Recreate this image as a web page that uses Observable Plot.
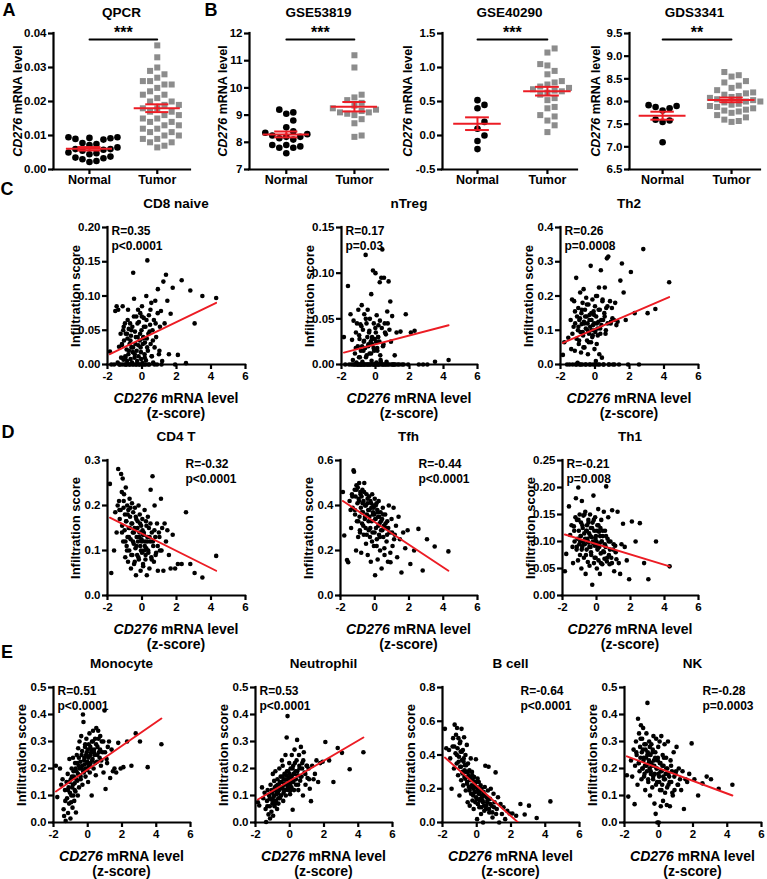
<!DOCTYPE html>
<html><head><meta charset="utf-8">
<script src="https://cdn.jsdelivr.net/npm/d3@7"></script>
<script src="https://cdn.jsdelivr.net/npm/@observablehq/plot@0.6"></script>
<style>
body{margin:0;background:#fff;}
#fig{position:relative;width:767px;height:879px;font-family:"Liberation Sans",Arial,sans-serif;font-weight:bold;color:#000;overflow:hidden;background:#fff}
.abs{position:absolute;white-space:nowrap;line-height:1}
.title{font-size:13.5px;transform:translate(-50%,-50%)}
.letter{font-size:18px;transform:translate(-50%,-50%)}
.ylab{transform:translate(-50%,-50%) rotate(-90deg)}
.xlab{font-size:14px;text-align:center;transform:translateX(-50%);line-height:15px}
svg{position:absolute}
</style></head><body><div id="fig"></div>
<script>
// ---------------- DATA ----------------
const groupLabels = ["Normal", "Tumor"];

const qpcrNormal = [0.0095,0.0095,0.0093,0.0092,0.009,0.0088,0.0078,0.0075,0.0072,0.0065,0.006,0.006,0.0058,0.0055,0.005,0.0048,0.0045,0.0038,0.0035,0.0033,0.003,0.0025,0.0022];
const qpcrTumor = [0.0365,0.033,0.03,0.029,0.028,0.027,0.026,0.026,0.025,0.025,0.024,0.023,0.022,0.022,0.021,0.02,0.02,0.019,0.019,0.018,0.018,0.017,0.017,0.016,0.016,0.015,0.015,0.014,0.014,0.013,0.013,0.012,0.012,0.011,0.011,0.01,0.01,0.009,0.009,0.008,0.008,0.007,0.0065];
const gse53819Normal = [9.2,9.1,9.05,8.8,8.55,8.3,8.25,8.2,8.4,8.35,8.2,8.15,8.1,7.9,7.9,7.85,7.8,7.8,7.6];
const gse53819Tumor = [11.2,10.75,9.75,9.65,9.55,9.45,9.35,9.25,9.2,9.15,9.1,9.1,9.05,9.0,8.85,8.7,8.25,8.2];
const gse40290Normal = [0.52,0.45,0.4,0.2,0.1,0.0,-0.08,-0.2];
const gse40290Tumor = [1.28,1.22,1.05,1.03,0.95,0.9,0.8,0.78,0.75,0.72,0.7,0.68,0.66,0.65,0.63,0.6,0.55,0.52,0.42,0.4,0.3,0.28,0.22,0.15,0.05];
const gds3341Normal = [7.92,7.9,7.88,7.85,7.8,7.6,7.58,7.55,7.1];
const gds3341Tumor = [8.65,8.58,8.55,8.45,8.42,8.35,8.3,8.25,8.2,8.18,8.15,8.12,8.1,8.08,8.05,8.03,8.0,8.0,7.98,7.95,7.93,7.9,7.88,7.85,7.82,7.8,7.78,7.75,7.7,7.65,7.6,7.57,7.55];

const dotTitles = ["QPCR", "GSE53819", "GSE40290", "GDS3341"];
const dotStars = ["***", "***", "***", "**"];
const dotYDomains = [[0, 0.04], [7, 12], [-0.5, 1.5], [6.5, 9.5]];
const dotYTicks = [[0, 0.01, 0.02, 0.03, 0.04], [7, 8, 9, 10, 11, 12], [-0.5, 0, 0.5, 1, 1.5], [6.5, 7, 7.5, 8, 8.5, 9, 9.5]];
const dotYDecimals = [2, 0, 1, 1];

// CD276 z-score (shared samples for all infiltration panels)
const zScore = [-1.86,-1.78,-1.62,-1.55,-1.47,-1.41,-1.38,-1.33,-1.29,-1.24,
-1.21,-1.17,-1.15,-1.12,-1.09,-1.07,-1.04,-1.01,-0.99,-0.97,
-0.94,-0.91,-0.89,-0.86,-0.84,-0.81,-0.79,-0.77,-0.74,-0.72,
-0.69,-0.66,-0.64,-0.61,-0.58,-0.56,-0.53,-0.51,-0.48,-0.46,
-0.43,-0.41,-0.38,-0.35,-0.33,-0.31,-0.28,-0.25,-0.23,-0.2,
-0.18,-0.15,-0.13,-0.1,-0.08,-0.05,-0.03,0.0,0.02,0.05,
0.07,0.1,0.12,0.15,0.17,0.2,0.23,0.25,0.28,0.31,
0.34,0.37,0.4,0.43,0.47,0.5,0.54,0.57,0.61,0.65,
0.69,0.73,0.77,0.82,0.87,0.92,0.98,1.04,1.1,1.17,
1.24,1.31,1.39,1.47,1.56,1.66,1.78,1.92,2.08,2.3,
2.55,2.8,3.05,3.5,4.3,
-1.31,-1.16,-1.06,-0.96,-0.92,-0.87,-0.83,-0.76,-0.71,-0.67,
-0.62,-0.57,-0.52,-0.47,-0.42,-0.36,-0.32,-0.26,-0.21,-0.16,
-0.11,-0.06,-0.01,0.03,0.06,0.11,0.16,0.21,0.26,0.3,
0.36,0.44,0.49,0.56,0.63,0.72,0.79,0.91,1.01,1.13];

const cd8Naive = [0.019,0.0,0.0,0.078,0.085,0.003,0.08,0.026,0.0,0.045,
0.01,0.028,0.0,0.085,0.05,0.007,0.035,0.0,0.06,0.012,
0.045,0.0,0.022,0.005,0.038,0.08,0.015,0.052,0.0,0.03,
0.06,0.008,0.042,0.025,0.003,0.055,0.018,0.134,0.0,0.096,
0.01,0.048,0.03,0.0,0.07,0.02,0.005,0.04,0.08,0.012,
0.062,0.0,0.035,0.075,0.025,0.008,0.05,0.085,0.002,0.03,
0.04,0.068,0.0,0.015,0.032,0.055,0.006,0.1,0.038,0.152,
0.02,0.045,0.072,0.0,0.058,0.03,0.09,0.012,0.05,0.003,
0.065,0.025,0.093,0.04,0.0,0.11,0.015,0.055,0.078,0.005,
0.121,0.06,0.131,0.093,0.015,0.074,0.112,0.0,0.014,0.123,
0.002,0.108,0.06,0.1,0.097,
0.0,0.03,0.055,0.01,0.0,0.045,0.065,0.02,0.0,0.035,
0.05,0.0,0.025,0.07,0.015,0.04,0.0,0.06,0.028,0.0,
0.045,0.018,0.07,0.0,0.038,0.055,0.01,0.0,0.065,0.025,
0.0,0.048,0.08,0.012,0.035,0.0,0.06,0.075,0.02,0.0];
const nTreg = [0.03,0.0,0.086,0.0,0.055,0.0,0.027,0.005,0.048,0.0,
0.012,0.0,0.035,0.002,0.045,0.0,0.02,0.06,0.0,0.008,
0.028,0.0,0.044,0.015,0.0,0.065,0.02,0.003,0.038,0.0,
0.025,0.055,0.0,0.018,0.12,0.008,0.045,0.0,0.03,0.06,
0.02,0.0,0.035,0.012,0.05,0.0,0.025,0.077,0.004,0.03,
0.022,0.103,0.0,0.045,0.015,0.028,0.0,0.1,0.035,0.002,
0.054,0.018,0.0,0.03,0.043,0.0,0.025,0.09,0.01,0.003,
0.095,0.04,0.126,0.0,0.022,0.095,0.045,0.0,0.033,0.003,
0.058,0.0,0.091,0.038,0.069,0.0,0.053,0.0,0.0,0.0,
0.035,0.0,0.0,0.036,0.0,0.0,0.055,0.0,0.035,0.037,
0.0,0.0,0.0,0.003,0.005,
0.0,0.018,0.0,0.032,0.008,0.0,0.042,0.0,0.015,0.026,
0.0,0.05,0.01,0.0,0.022,0.037,0.0,0.012,0.028,0.0,
0.018,0.0,0.04,0.025,0.0,0.015,0.03,0.0,0.048,0.005,
0.0,0.02,0.0,0.035,0.0,0.045,0.0,0.025,0.0,0.01];
const th2 = [0.028,0.065,0.0,0.078,0.0,0.13,0.045,0.19,0.0,0.11,
0.185,0.04,0.12,0.0,0.253,0.075,0.14,0.005,0.1,0.165,
0.06,0.13,0.0,0.21,0.095,0.035,0.15,0.118,0.0,0.18,
0.085,0.22,0.125,0.05,0.16,0.0,0.105,0.195,0.14,0.07,
0.12,0.03,0.175,0.09,0.0,0.145,0.11,0.288,0.065,0.13,
0.1,0.19,0.085,0.0,0.155,0.12,0.045,0.17,0.095,0.01,
0.14,0.06,0.2,0.105,0.0,0.125,0.225,0.03,0.16,0.09,
0.275,0.115,0.02,0.185,0.13,0.0,0.15,0.225,0.09,0.165,
0.31,0.12,0.315,0.0,0.185,0.125,0.165,0.0,0.13,0.18,
0.115,0.125,0.0,0.245,0.295,0.21,0.13,0.0,0.27,0.15,
0.0,0.337,0.15,0.162,0.24,
0.09,0.155,0.0,0.11,0.07,0.135,0.0,0.16,0.095,0.05,
0.12,0.14,0.0,0.175,0.1,0.065,0.13,0.0,0.15,0.08,
0.115,0.145,0.1,0.0,0.2,0.12,0.085,0.16,0.0,0.105,
0.13,0.19,0.0,0.14,0.1,0.17,0.0,0.12,0.135,0.0];
const cd4T = [0.248,0.05,0.1,0.185,0.14,0.2,0.281,0.21,0.17,0.19,
0.27,0.23,0.155,0.26,0.12,0.195,0.225,0.145,0.18,0.085,
0.24,0.165,0.11,0.2,0.13,0.075,0.19,0.15,0.1,0.215,
0.175,0.125,0.06,0.16,0.205,0.09,0.14,0.185,0.115,0.07,
0.15,0.195,0.105,0.045,0.17,0.13,0.09,0.165,0.12,0.2,
0.08,0.14,0.18,0.11,0.055,0.155,0.125,0.095,0.17,0.135,
0.065,0.14,0.1,0.19,0.12,0.08,0.165,0.105,0.045,0.13,
0.175,0.095,0.15,0.06,0.12,0.235,0.085,0.14,0.265,0.11,
0.075,0.2,0.13,0.095,0.16,0.055,0.14,0.1,0.215,0.15,
0.055,0.16,0.12,0.145,0.09,0.06,0.135,0.06,0.07,0.07,
0.185,0.07,0.05,0.04,0.088,
0.19,0.14,0.21,0.12,0.165,0.1,0.18,0.13,0.15,0.195,
0.09,0.16,0.12,0.14,0.075,0.175,0.11,0.15,0.085,0.13,
0.16,0.1,0.12,0.145,0.07,0.135,0.11,0.09,0.155,0.12,
0.1,0.13,0.16,0.08,0.12,0.145,0.09,0.11,0.13,0.1];
const tfh = [0.46,0.267,0.158,0.148,0.42,0.38,0.3,0.45,0.39,0.556,
0.55,0.47,0.36,0.44,0.2,0.49,0.33,0.41,0.48,0.26,
0.43,0.5,0.35,0.28,0.46,0.39,0.19,0.44,0.32,0.47,
0.37,0.42,0.27,0.5,0.34,0.4,0.3,0.23,0.45,0.36,
0.41,0.18,0.38,0.29,0.44,0.35,0.26,0.42,0.15,0.39,
0.33,0.45,0.28,0.37,0.4,0.22,0.36,0.43,0.09,0.34,
0.3,0.41,0.25,0.38,0.16,0.35,0.42,0.27,0.32,0.2,
0.37,0.29,0.12,0.34,0.39,0.26,0.31,0.18,0.36,0.3,
0.24,0.33,0.15,0.4,0.28,0.148,0.34,0.22,0.39,0.27,
0.31,0.17,0.35,0.25,0.102,0.28,0.21,0.29,0.14,0.2,
0.296,0.111,0.25,0.218,0.196,
0.44,0.38,0.47,0.33,0.42,0.29,0.45,0.37,0.41,0.31,
0.46,0.35,0.4,0.27,0.43,0.33,0.38,0.3,0.41,0.24,
0.36,0.39,0.28,0.34,0.4,0.22,0.37,0.31,0.35,0.26,
0.33,0.29,0.36,0.21,0.32,0.27,0.3,0.19,0.28,0.25];
const th1 = [0.045,0.077,0.165,0.112,0.13,0.09,0.06,0.128,0.1,0.145,
0.18,0.085,0.14,0.105,0.065,0.2,0.12,0.095,0.15,0.075,
0.11,0.135,0.05,0.175,0.09,0.125,0.1,0.148,0.07,0.115,
0.095,0.155,0.04,0.12,0.085,0.13,0.105,0.062,0.14,0.098,
0.115,0.055,0.15,0.09,0.125,0.075,0.108,0.02,0.135,0.097,
0.185,0.06,0.12,0.092,0.145,0.07,0.11,0.1,0.05,0.13,
0.088,0.16,0.065,0.118,0.096,0.04,0.125,0.078,0.14,0.1,
0.058,0.11,0.082,0.155,0.068,0.12,0.09,0.202,0.063,0.105,
0.145,0.075,0.058,0.1,0.07,0.158,0.085,0.045,0.092,0.067,
0.155,0.06,0.04,0.095,0.133,0.09,0.065,0.03,0.137,0.1,
0.134,0.06,0.03,0.1,0.054,
0.12,0.09,0.14,0.1,0.11,0.085,0.13,0.095,0.15,0.105,
0.075,0.12,0.1,0.135,0.09,0.11,0.08,0.125,0.1,0.14,
0.07,0.105,0.095,0.12,0.085,0.13,0.09,0.11,0.06,0.1,
0.12,0.08,0.095,0.11,0.07,0.1,0.085,0.06,0.095,0.08];
const monocyte = [0.21,0.094,0.2,0.14,0.16,0.049,0.024,0.12,0.006,0.15,
0.09,0.18,0.035,0.13,0.07,0.235,0.11,0.015,0.16,0.075,
0.2,0.13,0.055,0.24,0.1,0.17,0.08,0.145,0.22,0.115,
0.037,0.19,0.25,0.155,0.1,0.275,0.21,0.13,0.3,0.175,
0.225,0.16,0.32,0.2,0.265,0.14,0.4,0.372,0.185,0.24,
0.215,0.29,0.17,0.25,0.31,0.195,0.225,0.27,0.15,0.205,
0.245,0.33,0.185,0.28,0.22,0.26,0.1,0.3,0.235,0.34,
0.2,0.27,0.25,0.31,0.175,0.35,0.225,0.28,0.34,0.26,
0.24,0.32,0.21,0.3,0.26,0.185,0.415,0.124,0.235,0.28,
0.3,0.165,0.27,0.19,0.2,0.185,0.295,0.2,0.205,0.3,
0.21,0.33,0.3,0.205,0.29,
0.08,0.12,0.15,0.1,0.17,0.14,0.19,0.12,0.2,0.16,
0.22,0.18,0.24,0.2,0.17,0.25,0.21,0.19,0.23,0.28,
0.2,0.26,0.22,0.24,0.29,0.21,0.25,0.27,0.23,0.3,
0.26,0.22,0.29,0.25,0.31,0.27,0.23,0.3,0.26,0.22];
const neutrophil = [0.075,0.063,0.13,0.09,0.11,0.05,0.002,0.08,0.12,0.03,
0.1,0.06,0.015,0.14,0.085,0.04,0.11,0.07,0.18,0.025,
0.095,0.154,0.06,0.12,0.19,0.08,0.135,0.105,0.05,0.16,
0.11,0.07,0.14,0.2,0.09,0.125,0.17,0.1,0.15,0.23,
0.13,0.21,0.08,0.16,0.12,0.18,0.145,0.25,0.1,0.175,
0.315,0.14,0.394,0.19,0.12,0.165,0.22,0.15,0.105,0.2,
0.17,0.13,0.25,0.155,0.047,0.21,0.18,0.12,0.27,0.16,
0.19,0.14,0.23,0.306,0.175,0.12,0.25,0.2,0.155,0.28,
0.17,0.22,0.1,0.26,0.185,0.14,0.21,0.165,0.2,0.125,
0.079,0.21,0.16,0.18,0.23,0.15,0.22,0.225,0.298,0.23,
0.15,0.276,0.258,0.197,0.26,
0.06,0.09,0.12,0.08,0.1,0.13,0.07,0.11,0.14,0.09,
0.12,0.15,0.1,0.13,0.17,0.11,0.14,0.12,0.16,0.19,
0.13,0.15,0.18,0.14,0.12,0.17,0.2,0.15,0.18,0.22,
0.16,0.19,0.14,0.21,0.17,0.2,0.23,0.18,0.21,0.16];
const bCell = [0.555,0.44,0.43,0.38,0.2,0.45,0.5,0.32,0.58,0.41,
0.52,0.35,0.56,0.44,0.28,0.5,0.39,0.16,0.47,0.33,
0.42,0.25,0.555,0.37,0.3,0.43,0.22,0.36,0.505,0.27,
0.34,0.4,0.19,0.3,0.46,0.24,0.12,0.35,0.28,0.21,
0.31,0.1,0.26,0.38,0.17,0.22,0.3,0.13,0.25,0.2,
0.08,0.27,0.18,0.23,0.12,0.375,0.15,0.21,0.02,0.26,
0.11,0.19,0.24,0.09,0.17,0.14,0.22,0.05,0.2,0.16,
0.13,0.0,0.18,0.1,0.21,0.336,0.08,0.15,0.12,0.19,
0.33,0.06,0.14,0.2,0.1,0.03,0.17,0.12,0.297,0.08,
0.15,0.0,0.11,0.05,0.09,0.02,0.07,0.053,0.053,0.04,
0.11,0.047,0.1,0.027,0.125,
0.45,0.4,0.36,0.48,0.33,0.42,0.29,0.38,0.31,0.26,
0.34,0.23,0.3,0.27,0.19,0.25,0.21,0.28,0.16,0.22,
0.18,0.24,0.14,0.2,0.11,0.17,0.13,0.19,0.09,0.15,
0.12,0.07,0.16,0.1,0.13,0.08,0.11,0.06,0.09,0.05];
const nk = [0.175,0.096,0.23,0.17,0.27,0.068,0.21,0.3,0.25,0.14,
0.384,0.22,0.33,0.19,0.28,0.24,0.36,0.16,0.26,0.31,
0.2,0.35,0.23,0.17,0.29,0.21,0.12,0.27,0.24,0.33,
0.19,0.443,0.26,0.15,0.22,0.3,0.2,0.1,0.25,0.18,
0.29,0.21,0.13,0.27,0.16,0.32,0.23,0.07,0.18,0.26,
0.032,0.31,0.2,0.15,0.0,0.24,0.28,0.0,0.17,0.3,
0.12,0.22,0.06,0.32,0.19,0.14,0.25,0.08,0.21,0.16,
0.29,0.11,0.18,0.24,0.065,0.2,0.3,0.14,0.17,0.06,
0.23,0.15,0.19,0.1,0.26,0.12,0.18,0.28,0.14,0.2,
0.16,0.12,0.19,0.05,0.16,0.15,0.18,0.293,0.16,0.1,
0.145,0.17,0.16,0.125,0.14,
0.26,0.22,0.31,0.2,0.27,0.24,0.18,0.29,0.21,0.25,
0.16,0.23,0.28,0.19,0.22,0.26,0.17,0.21,0.24,0.14,
0.2,0.23,0.18,0.15,0.22,0.19,0.12,0.21,0.17,0.24,
0.16,0.2,0.13,0.18,0.15,0.21,0.11,0.17,0.19,0.14];

const scatterTitles = ["CD8 naive", "nTreg", "Th2", "CD4 T", "Tfh", "Th1", "Monocyte", "Neutrophil", "B cell", "NK"];
const scatterR = ["R=0.35", "R=0.17", "R=0.26", "R=-0.32", "R=-0.44", "R=-0.21", "R=0.51", "R=0.53", "R=-0.64", "R=-0.28"];
const scatterP = ["p<0.0001", "p=0.03", "p=0.0008", "p<0.0001", "p<0.0001", "p=0.008", "p<0.0001", "p<0.0001", "p<0.0001", "p=0.0003"];
const scatterYMax = [0.2, 0.15, 0.4, 0.3, 0.6, 0.25, 0.5, 0.5, 0.8, 0.5];
const scatterYStep = [0.05, 0.05, 0.1, 0.1, 0.2, 0.05, 0.1, 0.1, 0.2, 0.1];
const scatterYDecimals = [2, 2, 1, 1, 1, 2, 1, 1, 1, 1];
// fitted regression line values at the smallest and largest z-score
const fitAtMin = [0.015, 0.013, 0.063, 0.173, 0.42, 0.113, 0.115, 0.085, 0.385, 0.245];
const fitAtMax = [0.09, 0.043, 0.197, 0.055, 0.11, 0.054, 0.385, 0.315, -0.169, 0.1];
const xTicks = [-2, 0, 2, 4, 6];
const xLabelMain = "mRNA level";
const xLabelSub = "(z-score)";
const yLabelScatter = "Infiltration score";

const scatterSeries = [cd8Naive, nTreg, th2, cd4T, tfh, th1, monocyte, neutrophil, bCell, nk];
const dotNormal = [qpcrNormal, gse53819Normal, gse40290Normal, gds3341Normal];
const dotTumor = [qpcrTumor, gse53819Tumor, gse40290Tumor, gds3341Tumor];

// ---------------- DRAWING ----------------
const fig = document.getElementById("fig");
const FONT = "'Liberation Sans', Arial, Helvetica, sans-serif";
const RED = "#ec1c24";
const AXW = 2.2;

function addDiv(cls, html, x, y, extra) {
  const d = document.createElement("div");
  d.className = "abs " + cls;
  d.innerHTML = html;
  d.style.left = x + "px";
  d.style.top = y + "px";
  if (extra) Object.assign(d.style, extra);
  fig.appendChild(d);
  return d;
}
function place(svg, left, top) {
  svg.style.left = left + "px";
  svg.style.top = top + "px";
  fig.appendChild(svg);
}
const baseStyle = {background: "none", fontFamily: FONT, fontSize: "11.5px", fontWeight: "bold", overflow: "visible", color: "#000"};

function swarm(values, h, yDom, diam) {
  const pts = values.map(v => ({v, py: (v - yDom[0]) / (yDom[1] - yDom[0]) * h})).sort((a, b) => a.py - b.py);
  const placed = [];
  for (const p of pts) {
    let off = 0;
    for (let k = 0; k < 60; k++) {
      const o = k === 0 ? 0 : (k % 2 ? 1 : -1) * Math.ceil(k / 2) * diam;
      if (placed.every(q => Math.hypot(q.px - o, q.py - p.py) >= diam - 0.01)) { off = o; break; }
    }
    p.px = off;
    placed.push(p);
  }
  return placed;
}

function dotPanel(k, L, R, T, B, xDom, yLabOff) {
  const w = R - L, h = B - T;
  const ML = 48, MR = 8, MT = 16, MB = 24;
  const yDom = dotYDomains[k];
  const pxPerX = w / (xDom[1] - xDom[0]);
  const groups = [dotNormal[k], dotTumor[k]];
  const pts = [];
  groups.forEach((vals, g) => {
    swarm(vals, h, yDom, g === 0 ? 7 : 7.2).forEach(p => pts.push({x: g + 1 + p.px / pxPerX, y: p.v, g}));
  });
  const stats = groups.map((vals, g) => {
    const m = d3.mean(vals), s = d3.deviation(vals) / Math.sqrt(vals.length);
    return {x: g + 1, m, lo: m - s, hi: m + s};
  });
  const barY = yDom[1] - (yDom[1] - yDom[0]) * 6 / h;
  const dec = dotYDecimals[k];
  const svg = Plot.plot({
    width: w + ML + MR, height: h + MT + MB,
    marginLeft: ML, marginRight: MR, marginTop: MT, marginBottom: MB,
    style: baseStyle,
    x: {domain: xDom, axis: null},
    y: {domain: yDom, axis: null},
    marks: [
      Plot.axisX({ticks: [1, 2], tickFormat: d => groupLabels[d - 1], tickSize: 5, tickPadding: 1, strokeWidth: AXW, fontSize: 12.5, label: null}),
      Plot.axisY({ticks: dotYTicks[k], tickFormat: d => d.toFixed(dec), tickSize: 5, tickPadding: 2, strokeWidth: AXW, fontSize: 11.5, label: null}),
      Plot.ruleX([xDom[0]], {strokeWidth: AXW, strokeLinecap: "square"}),
      Plot.ruleY([yDom[0]], {strokeWidth: AXW, strokeLinecap: "square"}),
      Plot.dot(pts.filter(d => d.g === 0), {x: "x", y: "y", r: 3.3, fill: "#000", stroke: "none"}),
      Plot.dot(pts.filter(d => d.g === 1), {x: "x", y: "y", r: 3.4, symbol: "square", fill: "#8c8c8c", stroke: "none"}),
      Plot.ruleY(stats, {y: "m", x1: d => d.x - 0.34, x2: d => d.x + 0.34, stroke: RED, strokeWidth: 2}),
      Plot.ruleY(stats, {y: "lo", x1: d => d.x - 0.17, x2: d => d.x + 0.17, stroke: RED, strokeWidth: 2}),
      Plot.ruleY(stats, {y: "hi", x1: d => d.x - 0.17, x2: d => d.x + 0.17, stroke: RED, strokeWidth: 2}),
      Plot.ruleX(stats, {x: "x", y1: "lo", y2: "hi", stroke: RED, strokeWidth: 2}),
      Plot.line([{x: 1, y: barY}, {x: 2, y: barY}], {x: "x", y: "y", stroke: "#000", strokeWidth: 1.8}),
      Plot.text([dotStars[k]], {x: () => 1.5, y: () => barY, text: d => d, dy: -2, lineAnchor: "bottom", fontSize: 16, fontWeight: "bold"})
    ]
  });
  place(svg, L - ML, T - MT);
  addDiv("title", dotTitles[k], (L + R) / 2, 13);
  addDiv("ylab", "<i>CD276</i> mRNA level", L - yLabOff, (T + B) / 2, {fontSize: "12.5px"});
}

function scatterPanel(i, L, R, T, B, rightText, titleY) {
  const w = R - L, h = B - T;
  const ML = 48, MR = 10, MT = 14, MB = 24;
  const ymax = scatterYMax[i];
  const ticks = d3.range(0, ymax + 1e-9, scatterYStep[i]);
  const dec = scatterYDecimals[i];
  const data = zScore.map((x, j) => ({x, y: scatterSeries[i][j]})).filter(d => d.y != null);
  const fit = [{x: d3.min(zScore), y: fitAtMin[i]}, {x: d3.max(zScore), y: fitAtMax[i]}];
  const svg = Plot.plot({
    width: w + ML + MR, height: h + MT + MB,
    marginLeft: ML, marginRight: MR, marginTop: MT, marginBottom: MB,
    style: baseStyle,
    x: {domain: [-2, 6], axis: null},
    y: {domain: [0, ymax], axis: null},
    marks: [
      Plot.axisX({ticks: xTicks, tickFormat: d => String(d), tickSize: 5, tickPadding: 2, strokeWidth: AXW, fontSize: 11.5, label: null}),
      Plot.axisY({ticks, tickFormat: d => d.toFixed(dec), tickSize: 5, tickPadding: 2, strokeWidth: AXW, fontSize: 11.5, label: null}),
      Plot.ruleX([-2], {strokeWidth: AXW, strokeLinecap: "square"}),
      Plot.ruleY([0], {strokeWidth: AXW, strokeLinecap: "square"}),
      Plot.dot(data, {x: "x", y: "y", r: 2.3, fill: "#000", stroke: "none"}),
      Plot.line(fit, {x: "x", y: "y", stroke: RED, strokeWidth: 1.9, clip: true}),
      Plot.text([scatterR[i] + "\n" + scatterP[i]], {text: d => d, frameAnchor: "top-left", textAnchor: "start", lineAnchor: "top", dx: rightText ? 78 : 4, dy: -2, fontSize: 12, lineHeight: 1.17, fontWeight: "bold"})
    ]
  });
  place(svg, L - ML, T - MT);
  addDiv("title", scatterTitles[i], (L + R) / 2, titleY);
  addDiv("ylab", yLabelScatter, L - 32, (T + B) / 2, {fontSize: "13px"});
  addDiv("xlab", "<i>CD276</i> " + xLabelMain + "<br>" + xLabelSub, (L + R) / 2, B + 27);
}

// Panel A and B
dotPanel(0, 53, 190, 33, 169, [0.47, 2.49], 35);
dotPanel(1, 249, 388, 33, 169, [0.46, 2.5], 26);
dotPanel(2, 442, 577, 33, 169, [0.5, 2.43], 34);
dotPanel(3, 629, 760, 33, 169, [0.52, 2.42], 33);
// Panel C
scatterPanel(0, 107, 245, 227, 364, false, 204);
scatterPanel(1, 341, 477, 227, 364, false, 204);
scatterPanel(2, 560, 698, 227, 364, false, 204);
// Panel D
scatterPanel(3, 107, 245, 460, 595, true, 437);
scatterPanel(4, 340, 477, 460, 595, true, 437);
scatterPanel(5, 562, 698, 460, 595, false, 437);
// Panel E
scatterPanel(6, 53, 190, 687, 822, false, 664);
scatterPanel(7, 255, 392, 687, 822, false, 664);
scatterPanel(8, 442, 579, 687, 822, true, 664);
scatterPanel(9, 624, 761, 687, 822, true, 664);

// panel letters
addDiv("letter", "A", 9, 10);
addDiv("letter", "B", 211, 10);
addDiv("letter", "C", 7, 189);
addDiv("letter", "D", 8, 432);
addDiv("letter", "E", 7, 652);
</script></body></html>
